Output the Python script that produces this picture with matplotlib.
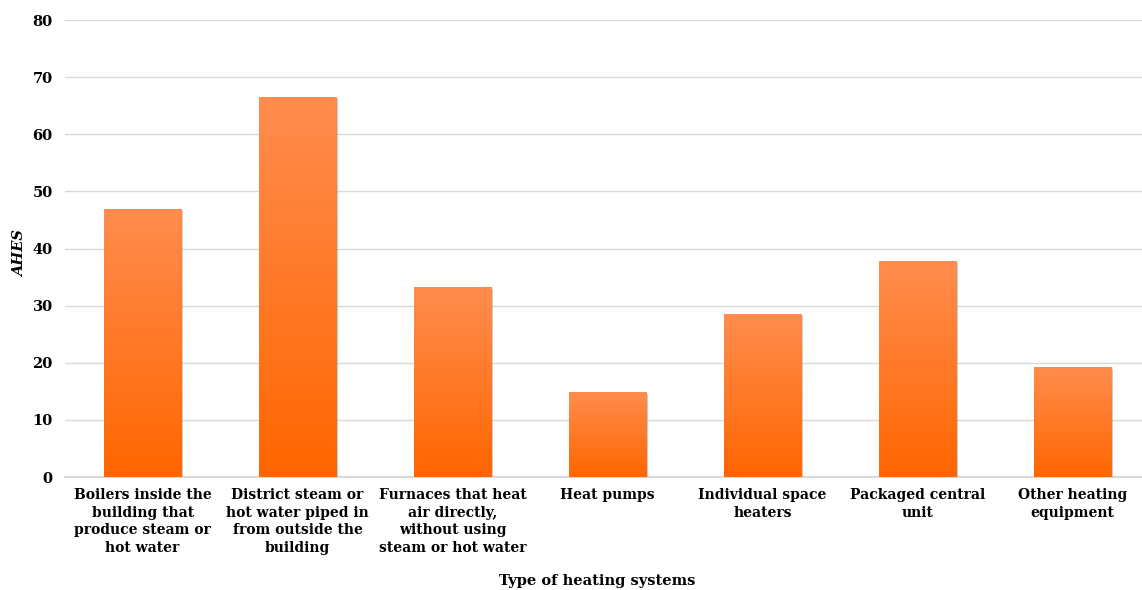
import numpy as np
import matplotlib.pyplot as plt
from matplotlib import patheffects
from matplotlib.colors import LinearSegmentedColormap

categories = [
    "Boilers inside the\nbuilding that\nproduce steam or\nhot water",
    "District steam or\nhot water piped in\nfrom outside the\nbuilding",
    "Furnaces that heat\nair directly,\nwithout using\nsteam or hot water",
    "Heat pumps",
    "Individual space\nheaters",
    "Packaged central\nunit",
    "Other heating\nequipment",
]
ahes = [47.0, 66.6, 33.3, 14.9, 28.6, 37.8, 19.2]
yticks = [0, 10, 20, 30, 40, 50, 60, 70, 80]

plt.rcParams['font.family'] = ['DejaVu Serif']
plt.rcParams['font.weight'] = 'bold'

fig = plt.figure(figsize=(11.42, 5.90), dpi=100)
ax = fig.add_axes([0.057, 0.1915, 0.95, 0.7745])

x = np.arange(len(categories))
bars = ax.bar(x, ahes, width=0.5, color='#FF6600', zorder=3,
              path_effects=[patheffects.SimplePatchShadow(offset=(1.5, -1.5), shadow_rgbFace='#999999', alpha=0.5),
                            patheffects.Normal()])

# vertical orange gradient, lighter at the top of each bar
grad_cmap = LinearSegmentedColormap.from_list('orange_grad', ['#FF6600', '#FF8D4F'])
grad = np.linspace(0, 1, 256).reshape(-1, 1)
for bar in bars:
    x0, w, h = bar.get_x(), bar.get_width(), bar.get_height()
    im = ax.imshow(grad, cmap=grad_cmap, origin='lower', aspect='auto',
                   extent=[x0, x0 + w, 0, h], zorder=4)
    im.set_clip_path(bar)

ax.set_xlim(-0.5, 6.5)
ax.set_ylim(0, 80)
ax.set_yticks(yticks)
ax.set_yticklabels([str(t) for t in yticks], fontsize=10.5, fontweight='bold')
ax.set_xticks(x)
ax.set_xticklabels(categories, fontsize=10, fontweight='bold', va='top', linespacing=1.33)
ax.tick_params(axis='both', length=0)
ax.tick_params(axis='x', pad=8)
ax.tick_params(axis='y', pad=9)

ax.grid(axis='y', color='#D9D9D9', linewidth=1.0, zorder=0)
for side in ['top', 'right', 'left']:
    ax.spines[side].set_visible(False)
ax.spines['bottom'].set_color('#D9D9D9')
ax.spines['bottom'].set_linewidth(1.5)

ax.set_xlabel("Type of heating systems", fontsize=10.5, fontweight='bold', va='center')
ax.xaxis.set_label_coords(0.49, -0.2276)
ax.set_ylabel("AHES", fontsize=10.5, fontweight='bold', style='italic', va='center')
ax.yaxis.set_label_coords(-0.041, 0.49)

fig.savefig("out.png", dpi=100)
